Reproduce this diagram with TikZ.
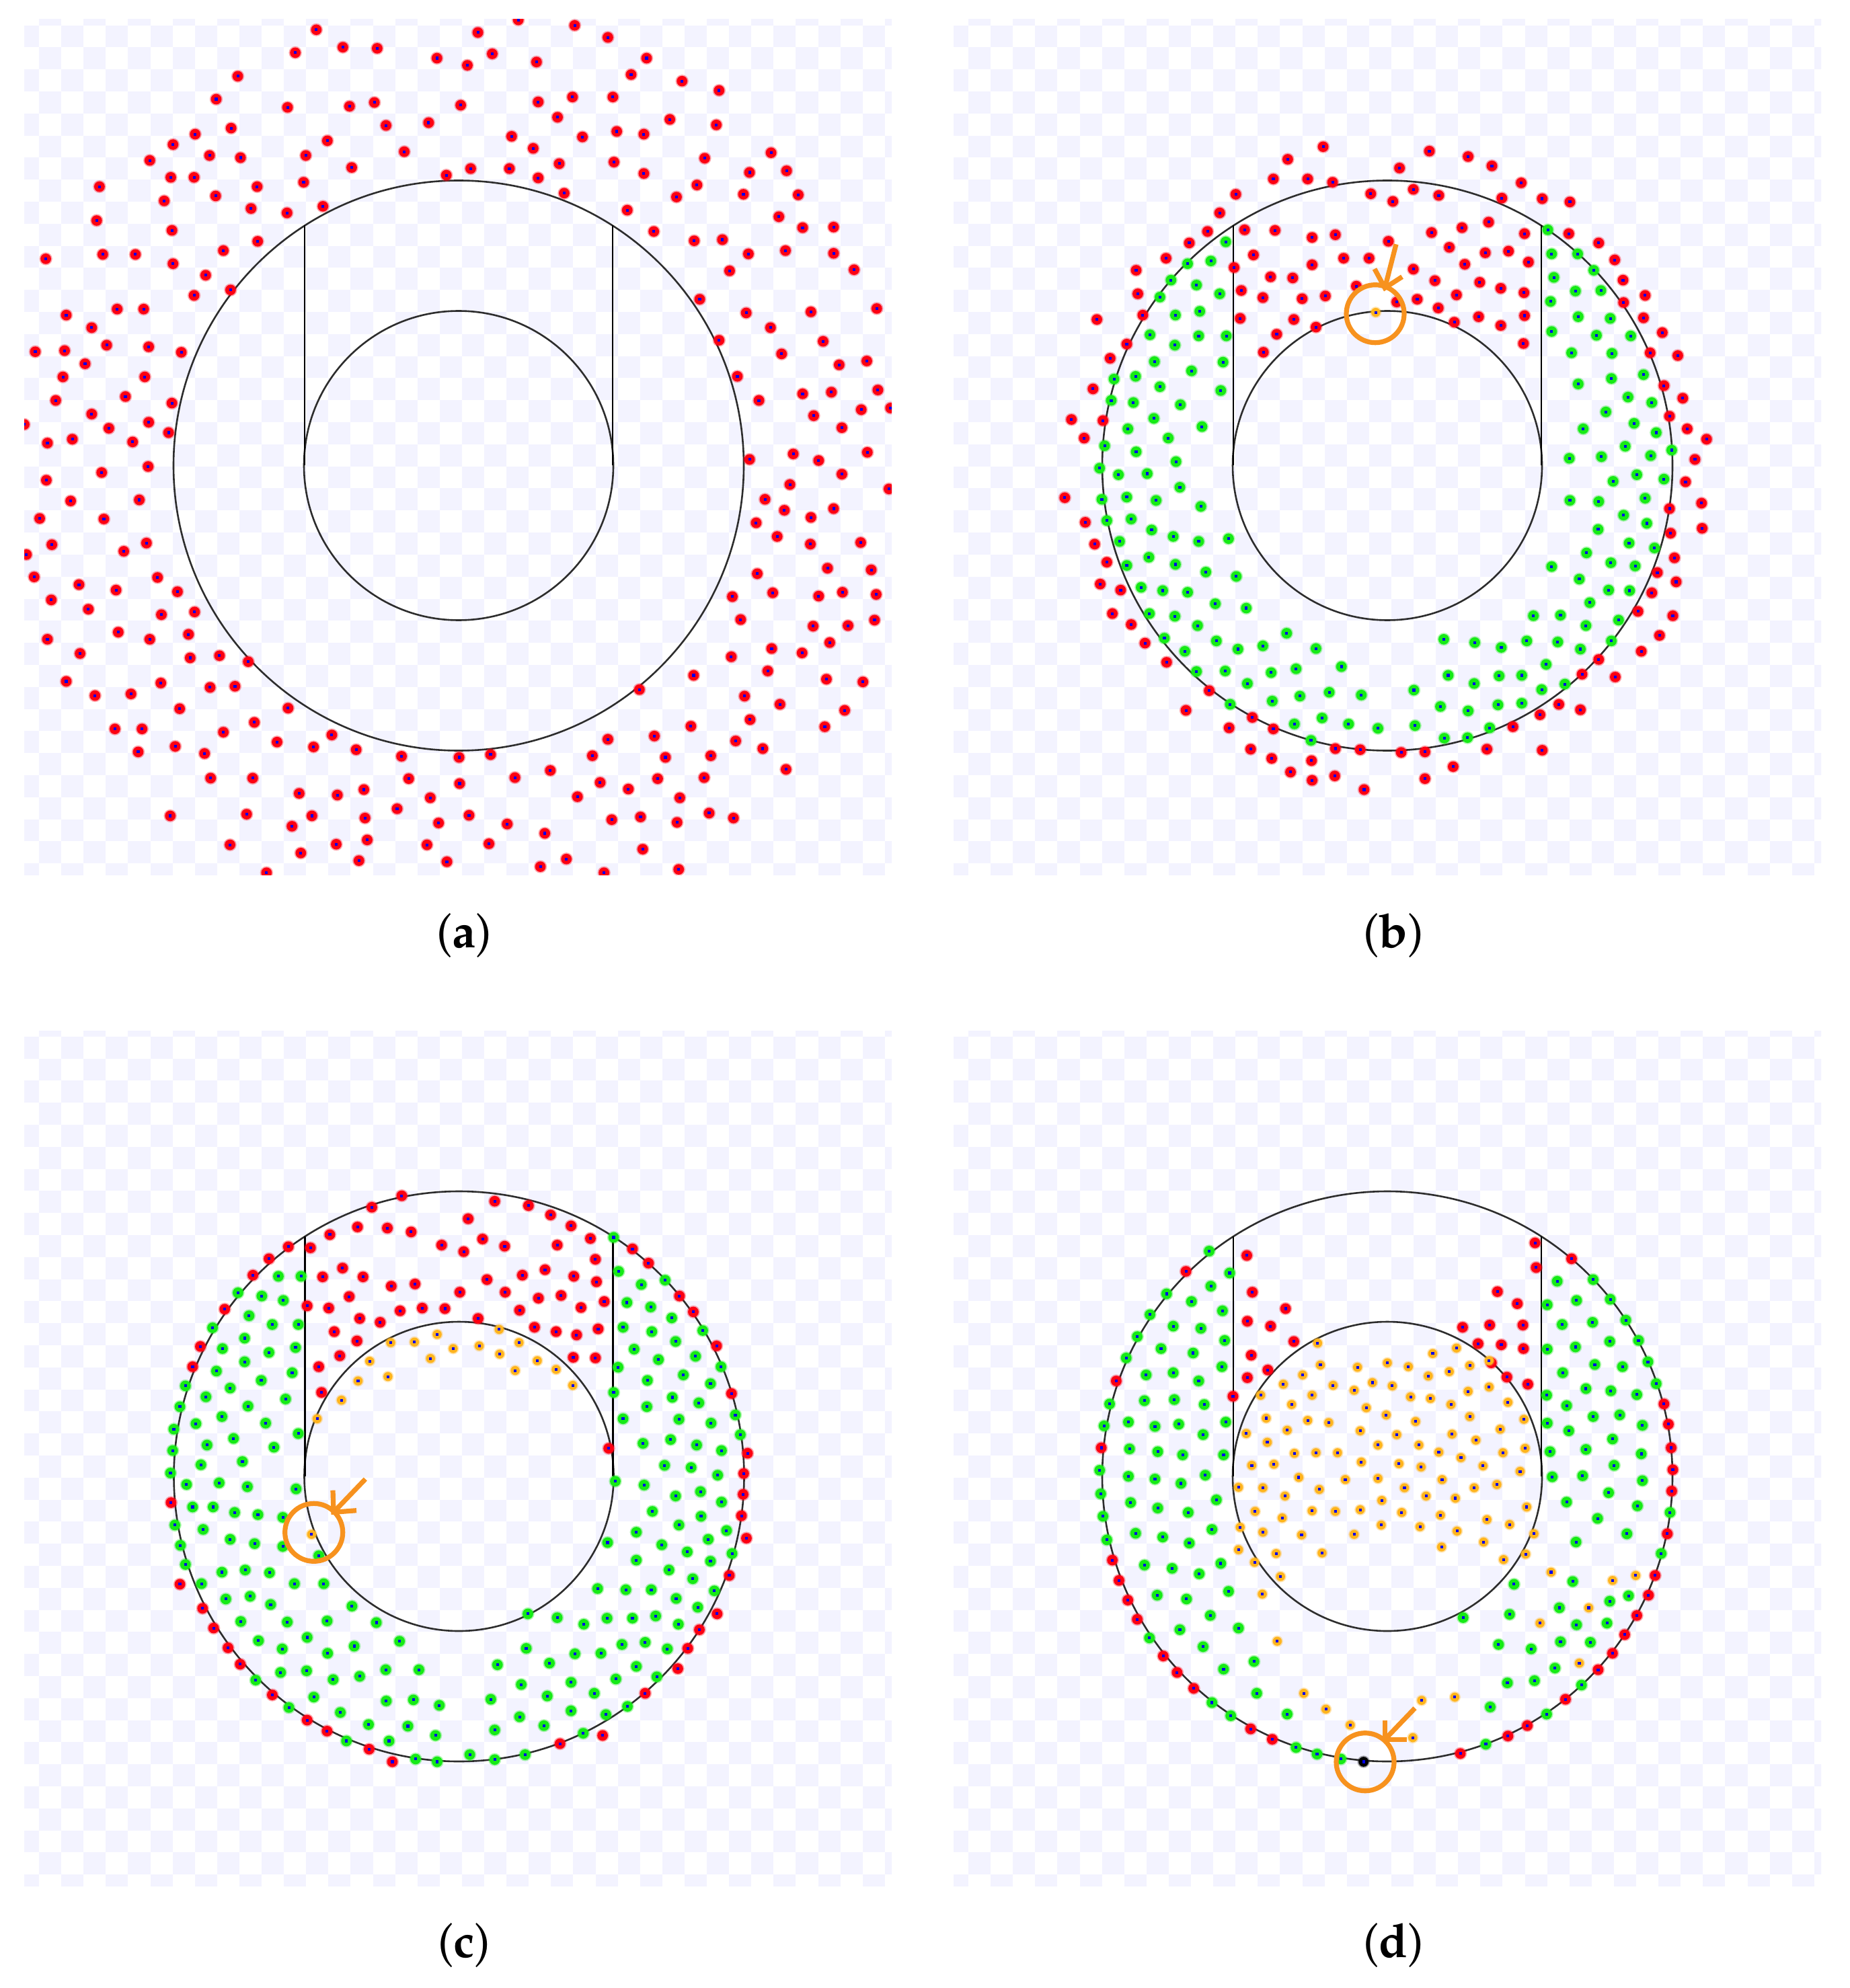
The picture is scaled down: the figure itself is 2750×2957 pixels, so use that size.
\documentclass[tikz,border=0pt]{standalone}
\usepackage[T1,TU]{fontenc}
\usetikzlibrary{calc}
\definecolor{chk}{RGB}{243,243,255}
\definecolor{dred}{RGB}{252,0,18}
\definecolor{dgreen}{RGB}{22,234,22}
\definecolor{dorange}{RGB}{255,180,30}
\definecolor{dblue}{RGB}{0,0,235}
\definecolor{annot}{RGB}{247,146,30}
\definecolor{ringc}{RGB}{45,45,45}
\newcommand\palfont{\fontencoding{T1}\fontfamily{ppl}\fontsize{20pt}{24pt}\selectfont}
\newcommand\dotset[3]{\foreach \px/\py in {#3}{%
  \fill[#1,opacity=0.35] (\px,\py) circle[radius=#2+2.2];
  \fill[#1] (\px,\py) circle[radius=#2];
  \fill[dblue] (\px,\py) ++(-2.5,-2.5) rectangle ++(5,5);}}
\newcommand\checkerat[2]{\begin{scope}[shift={(#1,#2)}]
  \clip (36,29) rectangle (1326,1301);
  \foreach \i in {0,...,39}{\foreach \j in {0,...,19}{
    \pgfmathtruncatemacro\rr{2*\j+1-mod(\i,2)}
    \fill[chk] ({24.9+33.1*\i},{4.9+32.8*\rr}) rectangle ++(33.1,32.8);}}
  \end{scope}}
\tikzset{
  ringline/.style={draw=ringc,line width=0.26mm},
  chanline/.style={draw=black,line width=0.26mm},
  mark circ/.style={draw=annot,line width=0.72mm},
  mark arrow/.style={draw=annot,line width=0.72mm,line cap=butt},
  sublabel/.style={font=\palfont,inner sep=0pt}
}
\begin{document}
\begin{tikzpicture}[x=0.1mm,y=-0.1mm]
\useasboundingbox (0,0) rectangle (2750,2957);
\fill[white] (0,0) rectangle (2750,2957);
% checkerboards
\checkerat{0}{0}
\checkerat{1382}{0}
\checkerat{0}{1504}
\checkerat{1382}{1504}
% centres
\coordinate (ca) at (682,692.5);
\coordinate (cb) at (2063,692.5);
\coordinate (cc) at (682.5,2196);
\coordinate (cd) at (2063,2196);
% geometry
\foreach \c in {ca,cb,cc,cd}{
  \draw[ringline] (\c) circle[radius=424];
  \draw[ringline] (\c) circle[radius=230];
  \draw[chanline] (\c) ++(-229,0) -- ++(0,-357);
  \draw[chanline] (\c) ++(229,0) -- ++(0,-357);
}
% ---------- panel a ----------
\begin{scope}
\clip (36,29) rectangle (1326,1301);
\begin{scope}[shift={(36,28)},xscale=0.8227,yscale=0.8131]
\dotset{dred}{9.6}{528/20,820/25,893/2,995/12,1055/34,490/62,576/52,638/54,746/72,801/85,846/64,926/79,1125/72,
386/105,1097/102,1189/114,1256/131,347/147,476/162,588/160,633/153,789/158,929/152,991/143,1064/143,
374/200,548/223,654/195,731/190,964/180,1167/184,1251/194,309/211,269/230,881/215,1009/216,1071/206,1120/211,
227/259,335/250,391/254,509/250,687/243,920/237,1230/255,1350/245,592/272,807/274,877/274,967/265,1066/262,1120/283,1311/281,1378/278,
136/307,265/290,307/290,505/299,421/307,763/286,929/291,1216/304,253/333,346/324,976/319,1179/326,1300/321,1399/322,
131/369,410/347,475/355,540/343,1090/350,1364/362,267/387,1138/389,1407/382,1463/381,
39/439,142/431,201/431,269/448,360/424,422/407,1211/406,1262/404,1309/430,1376/424,1463/429,
328/469,1275/461,1500/459,307/506,373/496,1221/513,76/542,168/531,216/531,1305/538,1422/536,1541/530,122/565,1349/565,
20/609,73/607,149/597,225/600,284/610,1256/588,1444/590,1369/613,110/631,70/655,218/655,1473/633,1523/626,1289/654,
57/698,183/691,267/703,1328/698,1407/686,1459/683,1543/679,122/723,153/749,225/738,1427/726,1513/715,1566/712,
0/742,42/776,87/769,196/774,261/757,1478/748,1311/806,1390/796,1436/808,1524/793,140/830,224/819,1478/833,40/844,1384/852,
84/882,208/880,1339/879,1563/860,28/914,144/915,1374/899,1422/912,1463/896,1323/922,1361/947,
4/980,50/962,180/974,221/959,1421/961,1512/958,18/1021,99/1035,166/1045,241/1022,277/1048,1325/1015,1452/1005,1531/1008,
49/1063,116/1080,248/1090,308/1085,1280/1057,1353/1050,1436/1056,1479/1049,1540/1053,
42/1135,170/1122,227/1135,297/1126,1295/1099,1426/1111,1489/1110,1537/1100,
101/1161,300/1169,353/1165,405/1176,1456/1141,1351/1152,1406/1160,1278/1167,
76/1212,128/1238,193/1235,247/1215,336/1223,381/1221,1112/1227,1210/1201,1344/1193,1450/1208,1516/1213,
281/1262,477/1261,1302/1239,1366/1254,1483/1265,164/1299,213/1299,360/1305,416/1287,1312/1282,1205/1294,1447/1295,
206/1341,273/1331,326/1344,457/1323,523/1332,556/1310,600/1337,1055/1318,1139/1312,1286/1321,1335/1335,
682/1349,786/1351,843/1346,1027/1348,1159/1351,1241/1348,1377/1373,
337/1389,413/1389,695/1390,887/1388,951/1375,1041/1397,1092/1409,1145/1390,1229/1388,
497/1417,566/1420,614/1410,734/1425,787/1399,1000/1423,1185/1425,
264/1458,402/1455,520/1458,616/1462,674/1445,749/1471,804/1457,873/1473,1062/1465,1114/1460,1180/1470,1238/1453,1282/1462,
484/1477,941/1490,372/1511,564/1510,620/1502,728/1511,840/1509,1118/1519,
500/1526,605/1540,764/1542,933/1551,980/1537,1183/1556,438/1562,1048/1562}
\end{scope}
\end{scope}
% ---------- panel b ----------
\begin{scope}[shift={(1418,28)},xscale=0.8227,yscale=0.8131]
\dotset{dred}{9.6}{668/234,604/257,860/242,930/252,973/269,806/273,578/293,640/293,685/299,1026/300,510/321,754/320,831/312,877/323,794/334,991/328,1064/329,1114/335,
481/355,459/389,526/386,581/387,648/400,690/395,864/391,919/382,967/372,1032/393,1112/393,426/410,786/407,896/418,1166/410,
384/438,542/432,705/438,751/438,648/450,961/428,1003/425,1039/445,1195/441,330/460,507/455,573/472,613/474,831/458,924/449,870/479,1210/478,
333/503,520/497,559/510,630/512,672/507,728/489,801/518,838/513,909/505,951/482,989/493,1031/501,1250/506,1211/519,
259/550,342/542,518/548,615/550,655/564,876/529,905/555,949/545,989/561,1032/543,1247/547,584/577,1281/574,
313/595,560/610,1030/594,1259/611,1309/616,283/621,252/677,1284/671,1318/694,213/733,270/735,1294/727,236/767,1326/750,1361/769,
1340/806,1323/847,201/876,1352/886,1294/896,238/921,1353/932,1296/941,255/961,1303/986,277/994,1306/1030,1272/1013,265/1034,302/1045,1262/1050,
287/1088,1300/1092,1237/1084,321/1108,1276/1128,346/1142,1243/1157,385/1177,1166/1172,1196/1204,1136/1199,462/1229,1094/1254,1133/1264,420/1265,1060/1273,
498/1297,540/1278,578/1299,1011/1295,537/1336,690/1335,735/1337,809/1342,852/1341,964/1336,1064/1338,575/1353,647/1357,609/1378,689/1385,648/1393,903/1368,852/1390,742/1410}
\dotset{dgreen}{9.6}{492/408,423/448,465/443,393/478,439/487,481/503,373/509,401/542,445/535,355/578,443/580,493/580,400/597,363/627,487/628,290/659,329/654,430/644,373/673,483/680,
285/698,325/702,410/706,362/731,449/746,315/750,388/767,273/781,330/792,402/810,264/822,298/834,350/832,409/857,268/879,313/875,366/881,447/892,
277/918,321/915,358/935,397/947,443/956,497/951,300/956,353/985,401/998,313/1000,456/1012,511/1020,339/1040,378/1046,423/1049,473/1070,529/1078,
354/1088,400/1093,441/1110,381/1133,418/1157,475/1138,514/1153,559/1147,602/1124,655/1152,439/1194,491/1193,574/1196,619/1189,701/1185,
531/1216,500/1254,576/1248,626/1239,679/1232,737/1237,616/1290,666/1279,714/1290,767/1298,646/1320,
832/1228,834/1293,886/1135,942/1141,990/1150,1036/1138,1092/1140,1133/1153,894/1201,941/1216,986/1202,1027/1201,1071/1181,
880/1258,930/1266,984/1255,1027/1252,1063/1227,1105/1217,887/1316,929/1315,969/1297,1048/1092,1097/1091,1143/1110,1189/1138,1202/1100,
1074/386,1081/430,1128/430,1157/460,1085/473,1124/498,1170/497,1079/517,1129/545,1187/548,1081/572,1162/579,1224/580,1117/611,1190/612,
1247/651,1129/668,1189/658,1219/692,1179/719,1262/702,1230/740,1138/750,1270/757,1214/782,1171/801,1260/799,1298/789,1113/804,
1235/834,1192/846,1284/842,1114/881,1166/883,1211/908,1250/877,1165/934,1253/923,1221/959,1267/968,1144/977,1188/995,1232/1001,
1081/1002,1131/1025,1184/1045,1222/1046,1150/1068}
\dotset{dorange}{8.2}{763/537}
\end{scope}
% ---------- panel c ----------
\begin{scope}[shift={(38,1530)},xscale=0.8227,yscale=0.8150]
\dotset{dred}{9.6}{680/305,626/326,848/315,909/323,949/340,986/360,1021/383,475/398,440/420,411/450,360/512,316/580,302/617,
550/376,600/362,654/364,697/371,800/347,752/395,792/407,826/384,866/397,961/395,1030/421,
515/400,537/453,573/437,610/453,661/470,704/466,785/481,834/458,867/481,898/450,939/440,991/452,1032/462,
509/506,548/510,585/489,604/529,641/536,677/515,717/510,758/511,818/529,893/514,927/492,968/487,1004/509,1046/498,
558/553,599/570,568/597,530/617,535/664,920/545,959/553,996/559,1035/548,990/600,1030/601,
1097/402,1126/428,1182/488,1207/517,1249/579,1276/666,1305/775,1298/812,1297/850,1294/889,1303/930,1272/998,1250/1068,
1218/1097,1197/1131,1179/1168,1120/1213,1043/1290,966/1305,1054/766,263/865,279/1014,320/1058,340/1094,366/1130,388/1160,
446/1216,509/1262,545/1282,621/1315,663/1338}
\dotset{dgreen}{9.6}{457/452,498/452,384/482,427/488,466/496,338/546,404/524,446/540,493/540,356/584,396/565,440/591,488/582,
289/652,345/625,396/608,426/642,482/628,279/690,326/672,370/656,402/689,470/676,268/731,308/721,355/708,434/720,
266/770,328/760,376/748,449/764,493/739,262/811,317/796,392/790,291/832,350/829,401/836,489/840,302/873,339/873,378/883,420/887,465/892,
270/906,321/914,370/932,414/940,465/945,280/943,289/978,355/992,397/988,441/993,318/1013,362/1041,406/1036,443/1051,486/1013,530/962,539/1013,
389/1082,473/1083,545/1081,421/1117,464/1132,509/1111,546/1140,590/1054,634/1084,461/1175,508/1172,556/1188,594/1127,676/1118,
416/1189,521/1220,569/1248,604/1182,651/1170,711/1170,476/1239,620/1270,652/1227,701/1225,748/1235,580/1300,657/1300,691/1273,741/1290,
705/1333,744/1338,803/1325,848/1334,903/1325,
1063/381,1072/443,1113/467,1156/459,1087/500,1130/508,1168/528,1080/545,1132/553,1224/551,1100/585,1144/604,1175/571,1211/598,1257/617,
1071/618,1124/642,1189/632,1238/648,1063/664,1123/690,1169/673,1217/683,1080/712,1181/713,1239/720,1283/705,
1116/757,1166/750,1213/760,1258/770,1292/741,1155/797,1203/801,1251/815,1066/826,1118/833,1175/853,1220/845,1258/864,
1133/881,1181/906,1221/890,1267/916,1052/938,1104/919,1150/942,1196/955,1234/932,1104/970,1163/988,1206/1004,1238/972,1277/958,
1034/1022,1085/1024,1131/1024,1176/1040,1215/1056,1245/1026,908/1068,961/1075,1009/1087,1051/1076,1097/1076,1139/1072,1180/1087,
905/1131,947/1158,993/1141,1040/1140,1078/1124,1120/1120,1160/1132,853/1161,896/1197,943/1218,986/1193,1028/1213,1067/1187,1104/1164,1141/1183,
841/1224,848/1280,893/1256,937/1272,986/1245,1049/1252,1088/1237,1008/1286}
\dotset{dorange}{8.2}{744/558,703/572,660/573,622/607,601/643,655/635,571/678,527/712,773/584,820/579,856/549,892/573,857/594,732/602,
885/624,925/606,959/622,989/651,517/923}
\end{scope}
% ---------- panel d ----------
\begin{scope}[shift={(1418,1530)},xscale=0.8227,yscale=0.8150]
\dotset{dred}{9.6}{530/414,540/481,600/511,531/534,573/543,615/571,538/596,531/637,568/623,505/671,420/443,294/643,267/765,287/970,299/1007,
315/1043,332/1078,379/1145,404/1175,434/1204,537/1278,576/1297,1051/391,1053/436,1117/420,983/480,1019/502,920/545,969/541,1029/541,
948/575,990/577,1030/584,972/610,1000/636,1038/649,1284/685,1292/722,1297/765,1300/805,1298/844,1290/922,1268/998,1256/1034,
1235/1071,1213/1106,1191/1140,1165/1170,1106/1224,1037/1272,1002/1291,916/1323}
\dotset{dgreen}{9.6}{462/406,499/446,385/484,430/498,465/470,355/522,397/543,447/547,486/515,332/562,375/584,433/592,490/569,
312/601,348/632,397/628,443/643,485/617,282/685,345/679,399/677,453/686,272/725,316/718,364/726,407/722,451/741,492/718,
318/767,369/772,414/778,488/778,264/806,316/817,364/822,411/830,455/815,266/849,320/865,369/875,424/883,475/860,
270/890,329/921,378/928,426/939,467/914,277/933,345/979,395/985,444/995,483/976,368/1034,421/1041,497/1027,
409/1097,464/1071,515/1094,354/1112,451/1128,488/1169,543/1155,467/1230,548/1213,501/1254,603/1251,619/1312,657/1324,700/1333,
1091/461,1156/458,1187/494,1215/532,1073/504,1126/496,1100/540,1155/536,1073/585,1124/581,1186/571,1238/569,
1101/628,1159/613,1209/617,1255/608,1072/669,1143/657,1188/661,1235/668,1270/648,1073/720,1108/688,1112/734,1156/708,1204/705,1245/724,
1078/772,1143/768,1191/749,1243/776,1082/818,1137/816,1194/797,1245/825,1108/864,1184/847,1236/871,1295/883,1164/894,1217/922,1279/958,1125/937,
1119/1009,1013/1014,1005/1069,921/1075,1095/1057,1126/1088,1181/1085,1186/1045,1220/1035,985/1124,1044/1132,1097/1119,1151/1120,
1001/1194,1050/1190,1087/1167,970/1238,1135/1198,1072/1251,962/1306}
\dotset{dorange}{8.2}{658/574,909/583,866/593,784/610,822/617,858/634,896/626,933/615,968/606,663/614,631/632,596/649,555/669,
730/618,757/646,793/652,724/660,686/651,648/669,611/686,565/711,529/739,746/692,782/705,826/672,862/675,899/686,930/662,968/654,1002/682,1031/713,
640/715,603/733,567/755,678/719,735/734,801/741,835/717,901/740,933/708,944/751,988/731,
539/797,579/795,616/775,655/774,694/774,737/791,767/760,805/794,841/760,877/773,917/783,957/798,993/774,1033/766,
515/837,559/838,599/853,624/819,661/841,708/823,767/821,815/838,845/800,883/823,941/838,982/832,1024/808,
545/881,594/893,648/880,690/881,735/878,774/861,810/883,854/853,880/888,907/857,
518/910,559/919,629/924,724/923,773/906,843/909,910/917,964/896,1005/905,1036/873,
515/951,583/958,666/957,882/946,958/937,1049/922,544/974,591/1000,558/1032,994/969,1034/959,1080/992,1191/1007,1233/998,
1148/1057,1060/1085,585/1118,1131/1158,633/1213,673/1242,717/1271,846/1226,906/1220,830/1294}
\dotset{black}{9}{741/1338}
\end{scope}
% ---------- annotations ----------
\coordinate (mb) at (2045,466.7);
\coordinate (tb) at (2059.3,428.3);
\coordinate (sb) at (2076,363.3);
\coordinate (hb1) at (2044,400);
\coordinate (hb2) at (2085,411.7);
\draw[mark circ] (mb) circle[radius=43];
\draw[mark arrow] (sb) -- (tb);
\draw[mark arrow] (hb1) -- (tb) -- (hb2);
\coordinate (mc) at (466.7,2279.3);
\coordinate (tc) at (496,2249.3);
\coordinate (sc) at (543.3,2200);
\coordinate (hc1) at (495,2216.7);
\coordinate (hc2) at (530,2246.7);
\draw[mark circ] (mc) circle[radius=43];
\draw[mark arrow] (sc) -- (tc);
\draw[mark arrow] (hc1) -- (tc) -- (hc2);
\coordinate (md) at (2030,2620.7);
\coordinate (td) at (2059.3,2587.3);
\coordinate (sd) at (2104,2540.7);
\coordinate (hd1) at (2059.3,2559.3);
\coordinate (hd2) at (2091.7,2587.3);
\draw[mark circ] (md) circle[radius=43];
\draw[mark arrow] (sd) -- (td);
\draw[mark arrow] (hd1) -- (td) -- (hd2);
% ---------- labels ----------
\node[sublabel] (la) at (690,1391) {(\textbf{a})};
\node[sublabel] (lb) at (2072,1391) {(\textbf{b})};
\node[sublabel] (lc) at (690,2893) {(\textbf{c})};
\node[sublabel] (ld) at (2072,2893) {(\textbf{d})};
\end{tikzpicture}
\end{document}
